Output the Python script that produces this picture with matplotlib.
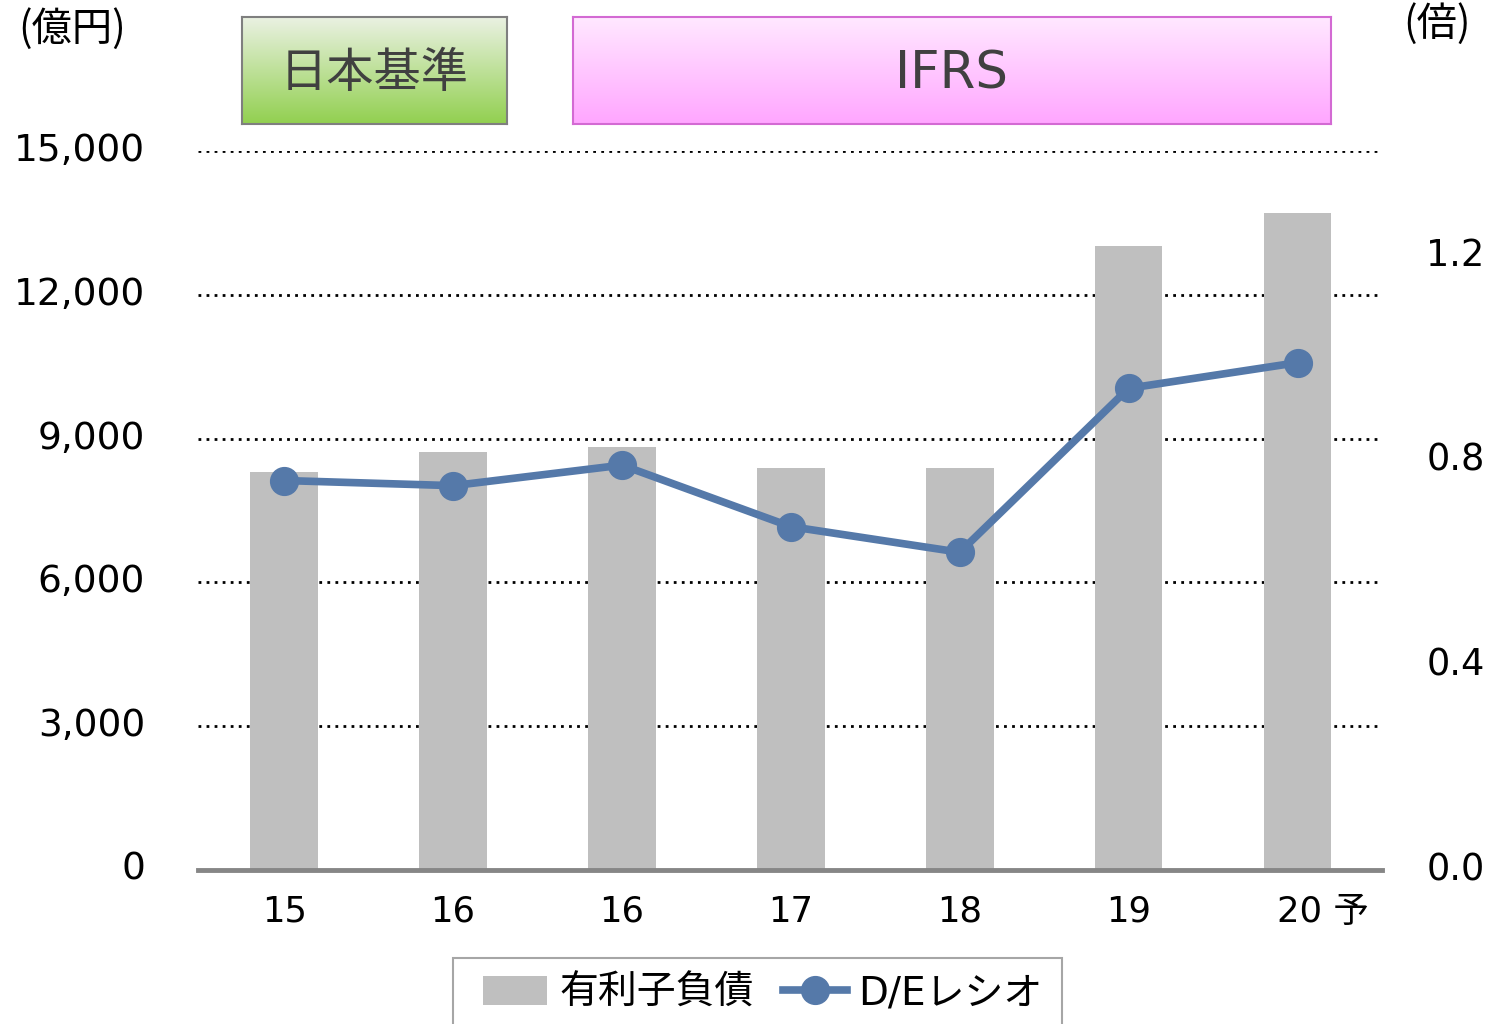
import numpy as np
import matplotlib
matplotlib.use("Agg")
from matplotlib import pyplot as plt
from matplotlib.transforms import ScaledTranslation
from matplotlib.patches import Rectangle

plt.rcParams['font.family'] = ['DejaVu Sans', 'Noto Sans CJK JP']

# data
years = ["15", "16", "16", "17", "18", "19", "20 予"]
debt = [8300, 8720, 8830, 8390, 8390, 13020, 13710]       # 有利子負債 (億円)
de_ratio = [0.76, 0.75, 0.79, 0.67, 0.62, 0.94, 0.99]     # D/Eレシオ (倍)
left_ticks = [0, 3000, 6000, 9000, 12000, 15000]
right_ticks = [0.0, 0.4, 0.8, 1.2]

W, H = 1491, 1024
fig = plt.figure(figsize=(W / 100, H / 100), dpi=100)

# main axes, placed in pixel terms
ax = fig.add_axes([198 / W, 1 - 870 / H, (1382 - 198) / W, (870 - 151) / H])
ax2 = ax.twinx()

x = np.arange(len(years))
ax.bar(x, debt, width=0.40, color="#bfbfbf", zorder=2, label="有利子負債")
ax.set_xlim(-0.51, 6.5)
ax.set_ylim(0, 15000)

# dotted gridlines (not at zero)
for v in left_ticks[1:]:
    ax.axhline(v, color="black", lw=2.0, linestyle=(0, (1, 1.9)), zorder=1)

ax2.plot(x, de_ratio, color="#5579a9", lw=5.5, marker="o", markersize=20,
         zorder=5, label="D/Eレシオ")
ax2.set_ylim(0, 1.403)

ax.set_yticks(left_ticks)
ax.set_yticklabels([f"{v:,}" for v in left_ticks])
ax2.set_yticks(right_ticks)
ax2.set_yticklabels([f"{v:.1f}" for v in right_ticks])
ax.set_xticks(x)
ax.set_xticklabels(years)

ax.tick_params(axis="y", length=0, labelsize=27, pad=38)
ax2.tick_params(axis="y", length=0, labelsize=26.5, pad=32)
ax.tick_params(axis="x", length=0, labelsize=25.5, pad=18)

up = ScaledTranslation(0, 4 / 100, fig.dpi_scale_trans)
for lbl in ax.get_yticklabels() + ax2.get_yticklabels():
    lbl.set_transform(lbl.get_transform() + up)

# last label "20 予" starts a bit left of the tick
last = ax.get_xticklabels()[-1]
last.set_horizontalalignment("left")
last.set_transform(last.get_transform() + ScaledTranslation(-21 / 100, 0, fig.dpi_scale_trans))

for a in (ax, ax2):
    for s in ("top", "left", "right", "bottom"):
        a.spines[s].set_visible(False)
ax.spines["bottom"].set_visible(True)
ax.spines["bottom"].set_color("#868686")
ax.spines["bottom"].set_linewidth(3.5)
ax.spines["bottom"].set_zorder(6)

# unit labels
fig.text(18 / W, 1 - 29 / H, "(億円)", fontsize=29, va="center", ha="left",
         family=["Noto Sans CJK JP"])
fig.text(1403 / W, 1 - 24 / H, "(倍)", fontsize=29, va="center", ha="left",
         family=["Noto Sans CJK JP"])


# gradient header boxes
def header_box(x0, x1, y0, y1, top, bottom, edge, text, fs):
    bx = fig.add_axes([x0 / W, 1 - y1 / H, (x1 - x0) / W, (y1 - y0) / H])
    top = np.array(matplotlib.colors.to_rgb(top))
    bottom = np.array(matplotlib.colors.to_rgb(bottom))
    t = np.linspace(0, 1, 100)[:, None, None]
    grad = top * (1 - t) + bottom * t
    bx.imshow(grad, aspect="auto", extent=[0, 1, 0, 1])
    bx.set_xticks([])
    bx.set_yticks([])
    for s in bx.spines.values():
        s.set_color(edge)
        s.set_linewidth(1.5)
    bx.text(0.5, 0.46, text, ha="center", va="center", fontsize=fs,
            color="#404040", transform=bx.transAxes)


header_box(242, 507, 17, 124, "#eaf1e2", "#92d050", "#7f7f7f", "日本基準", 34)
header_box(573, 1331, 17, 124, "#ffe8ff", "#ffa6ff", "#d36ad3", "IFRS", 37)

# legend at the bottom, its frame runs off the figure edge
h1, l1 = ax.get_legend_handles_labels()
h2, l2 = ax2.get_legend_handles_labels()
leg = fig.legend(h1 + h2, l1 + l2, loc="center",
                 bbox_to_anchor=(763 / W, 1 - 993 / H), ncol=2, fontsize=28,
                 frameon=False, handlelength=1.65, handleheight=0.75,
                 handletextpad=0.3, columnspacing=0.75, borderpad=0,
                 borderaxespad=0)
fig.patches.append(Rectangle((453 / W, -0.02), (1062 - 453) / W, 0.02 + (1024 - 958) / H,
                             transform=fig.transFigure, fill=False,
                             edgecolor="#a6a6a6", lw=1.5))

fig.savefig("out.png", dpi=100)
